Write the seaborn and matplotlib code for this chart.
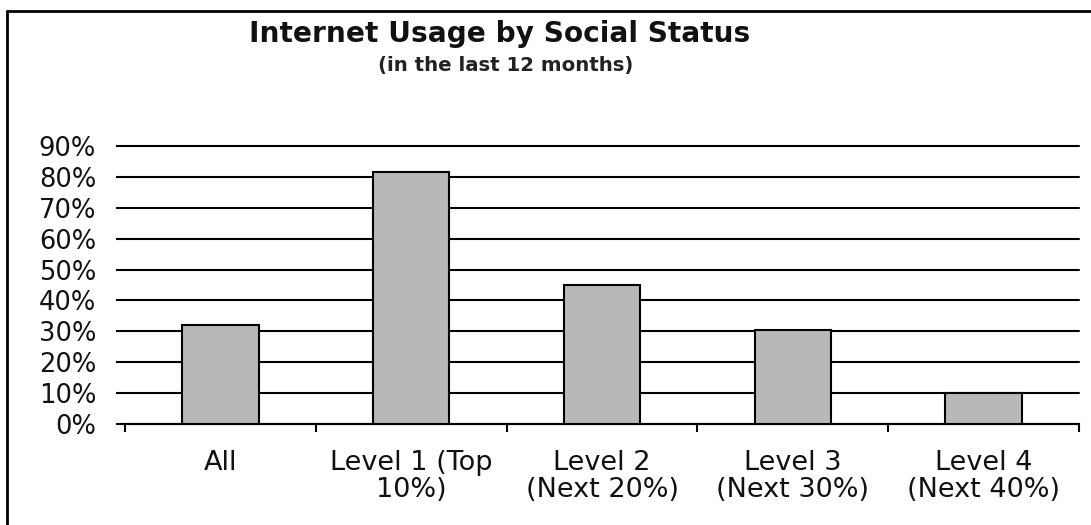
import matplotlib
matplotlib.use("Agg")
import matplotlib.pyplot as plt
from matplotlib.lines import Line2D
import seaborn as sns
import pandas as pd

categories = ["All", "Level 1 (Top\n10%)", "Level 2\n(Next 20%)", "Level 3\n(Next 30%)", "Level 4\n(Next 40%)"]
values = [0.32, 0.815, 0.45, 0.305, 0.10]
yticks = [0.0, 0.1, 0.2, 0.3, 0.4, 0.5, 0.6, 0.7, 0.8, 0.9]
ytick_labels = ["0%", "10%", "20%", "30%", "40%", "50%", "60%", "70%", "80%", "90%"]
title = "Internet Usage by Social Status"
subtitle = "(in the last 12 months)"

sns.set_theme(style="white")
plt.rcParams['font.family'] = ['DejaVu Sans']

df = pd.DataFrame({"cat": categories, "val": values})

fig = plt.figure(figsize=(10.91, 5.25), dpi=100)
ax = fig.add_axes([125 / 1091, 1 - 424 / 525, (1079 - 125) / 1091, (424 - 146) / 525])

sns.barplot(data=df, x="cat", y="val", color="#b8b8b8", saturation=1, width=0.4,
            edgecolor="black", linewidth=1.5, ax=ax, zorder=3)

ax.set_ylim(0, 0.9)
ax.set_xlim(-0.5, len(categories) - 0.5)
ax.set_yticks(yticks)
ax.set_yticklabels(ytick_labels, fontsize=18.5, color="#111111")
ax.yaxis.grid(True, color="black", linewidth=1.5, zorder=0)
ax.set_axisbelow(True)
for gl in ax.get_ygridlines():
    gl.set_clip_on(False)
ax.tick_params(axis="y", length=6.3, width=1.5, color="black", direction="out", pad=14.5, left=True)

ax.set_xticks(range(len(categories)))
ax.set_xticklabels(categories, fontsize=19.5, color="#111111", linespacing=1.05)
ax.tick_params(axis="x", which="major", length=0, pad=18.5)
ax.set_xticks([i - 0.5 for i in range(len(categories) + 1)], minor=True)
ax.tick_params(axis="x", which="minor", length=6, width=1.5, color="black", direction="out", bottom=True)

ax.set_xlabel("")
ax.set_ylabel("")
for s in ["top", "right", "left"]:
    ax.spines[s].set_visible(False)
ax.spines["bottom"].set_color("black")
ax.spines["bottom"].set_linewidth(1.5)

fig.text(500 / 1091, 1 - 34 / 525, title, ha="center", va="center", fontsize=20.2, fontweight="bold", color="#111111")
fig.text(506 / 1091, 1 - 65 / 525, subtitle, ha="center", va="center", fontsize=14.2, fontweight="bold", color="#222222")

# outer frame (left and top edges visible)
fig.add_artist(Line2D([7 / 1091, 7 / 1091], [0, 1 - 11 / 525], color="black", linewidth=2, transform=fig.transFigure))
fig.add_artist(Line2D([7 / 1091, 1], [1 - 11 / 525, 1 - 11 / 525], color="black", linewidth=2, transform=fig.transFigure))

fig.savefig("out.png", dpi=100, facecolor="white")
